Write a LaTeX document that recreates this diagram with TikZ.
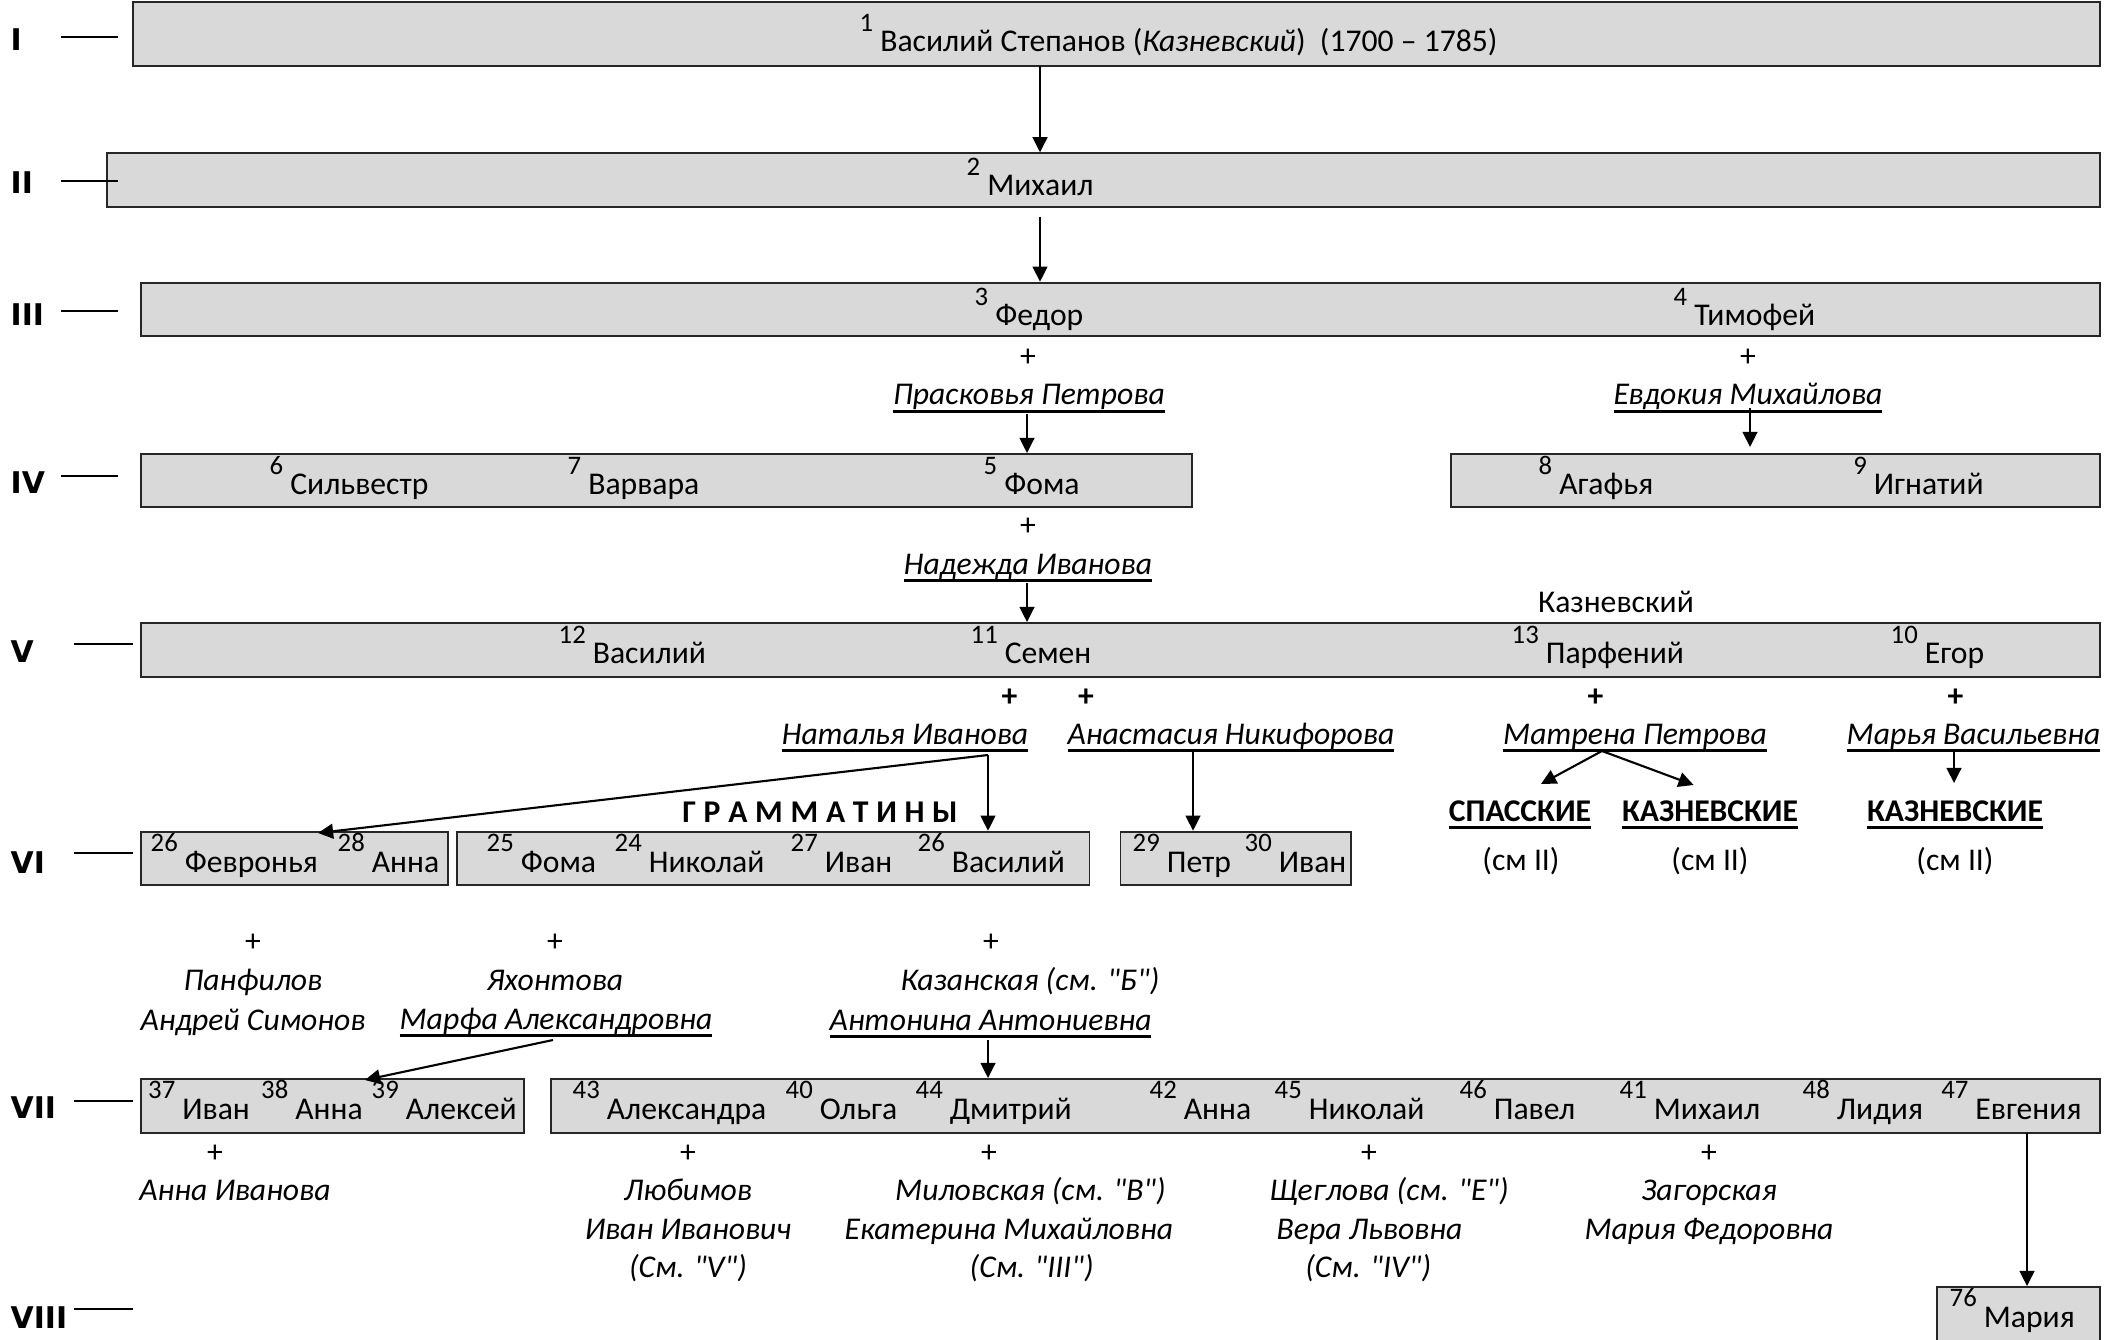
\documentclass[tikz,border=0pt]{standalone}
\usepackage{fontspec}
\setmainfont{Carlito}[Ligatures=TeXOff]
\newfontfamily\lvlfont{DejaVu Sans}
\usetikzlibrary{arrows.meta,fit}
\definecolor{boxfill}{HTML}{D9D9D9}
\newcommand\fs{\fontsize{9.0}{10.5}\selectfont}
\newcommand\pnum[2]{\raisebox{5.7pt}{\fontsize{7.6}{8}\selectfont #1}\hspace{2pt}#2}
\newcommand\myul[1]{\setbox0=\hbox{#1}\rlap{\rule[-2.3pt]{\wd0}{0.9pt}}\box0}
\newcommand\spc{\kern2.2pt}
\begin{document}
\begin{tikzpicture}[x=0.01cm,y=-0.01cm,font=\fs,
  famb/.style={draw=black!85,line width=0.55pt,fill=boxfill,inner sep=0pt,rectangle},
  pn/.style={anchor=base west,inner sep=0pt},
  sp/.style={anchor=base,inner sep=0pt,font=\fs\itshape},
  spl/.style={anchor=base west,inner sep=0pt,font=\fs\itshape},
  txt/.style={anchor=base,inner sep=0pt,font=\fs},
  btxt/.style={anchor=base,inner sep=0pt,font=\fs\bfseries},
  plus/.style={inner sep=0pt,font=\fs},
  bplus/.style={inner sep=0pt,font=\fs\bfseries},
  lvl/.style={anchor=west,inner sep=0pt,font=\lvlfont\bfseries\fontsize{8.5}{10}\selectfont},
  tick/.style={line width=0.55pt},
  arr/.style={-{Triangle[length=4.3pt,width=4.2pt]},line width=0.6pt},
  ln/.style={line width=0.6pt}]
\useasboundingbox (0,0) rectangle (2122,1340);
\clip (0,0) rectangle (2122,1340);

% ---------- boxes ----------
\node[famb,fit={(132.6,1.7)(2099.6,65.7)}] (bI) {};
\node[famb,fit={(107,153.3)(2099.6,206.7)}] (bII) {};
\node[famb,fit={(140.7,282.7)(2099.6,336)}] (bIII) {};
\node[famb,fit={(140.7,454)(1191.6,507)}] (bIVa) {};
\node[famb,fit={(1450.7,454)(2099.6,507)}] (bIVb) {};
\node[famb,fit={(140.7,623)(2099.6,677)}] (bV) {};
\node[famb,fit={(140.7,831.7)(448,885)}] (bVIa) {};
\node[famb,fit={(456.7,831.7)(1089.5,885)}] (bVIb) {};
\node[famb,fit={(1120.5,831.7)(1350.6,885)}] (bVIc) {};
\node[famb,fit={(140.7,1079)(524,1133)}] (bVIIa) {};
\node[famb,fit={(551.4,1079)(2099.6,1133)}] (bVIIb) {};
\node[famb,fit={(1937,1287)(2099.6,1370)}] (bVIII) {};

% ---------- generation labels ----------
\node[lvl] (lI) at (10,40) {I};
\node[lvl] (lII) at (10,183) {II};
\node[lvl] (lIII) at (10,315) {III};
\node[lvl] (lIV) at (10,483) {IV};
\node[lvl] (lV) at (10,652) {V};
\node[lvl] (lVI) at (10,863) {VI};
\node[lvl] (lVII) at (10,1108) {VII};
\node[lvl] (lVIII) at (10,1318) {VIII};
\draw[tick] (61,37) -- (118,37);
\draw[tick] (61,181) -- (118,181);
\draw[tick] (61,311) -- (118,311);
\draw[tick] (61,476) -- (118,476);
\draw[tick] (74,644) -- (133,644);
\draw[tick] (74,853) -- (133,853);
\draw[tick] (74,1101) -- (133,1101);
\draw[tick] (74,1309) -- (133,1309);

% ---------- persons ----------
\node[pn] (p1) at (859,51.7) {\pnum{1}{Василий Степанов (\textit{Казневский})\ \ (1700 – 1785)}};
\node[pn] (p2) at (966,195.5) {\pnum{2}{Михаил}};
\node[pn] (p3) at (974,325.5) {\pnum{3}{Федор}};
\node[pn] (p4) at (1673,325.5) {\pnum{4}{Тимофей}};
\node[pn] (p6) at (269,494.5) {\pnum{6}{Сильвестр}};
\node[pn] (p7) at (567,494.5) {\pnum{7}{Варвара}};
\node[pn] (p5) at (983,494.5) {\pnum{5}{Фома}};
\node[pn] (p8) at (1538,494.5) {\pnum{8}{Агафья}};
\node[pn] (p9) at (1852.6,494.5) {\pnum{9}{Игнатий}};
\node[pn] (p12) at (558,663.5) {\pnum{12}{Василий}};
\node[pn] (p11) at (970,663.5) {\pnum{11}{Семен}};
\node[pn] (p13) at (1511,663.5) {\pnum{13}{Парфений}};
\node[pn] (p10) at (1890,663.5) {\pnum{10}{Егор}};
\node[pn] (p26a) at (150,872) {\pnum{26}{Февронья}};
\node[pn] (p28) at (337,872) {\pnum{28}{Анна}};
\node[pn] (p25) at (486,872) {\pnum{25}{Фома}};
\node[pn] (p24) at (614,872) {\pnum{24}{Николай}};
\node[pn] (p27) at (790,872) {\pnum{27}{Иван}};
\node[pn] (p26b) at (917,872) {\pnum{26}{Василий}};
\node[pn] (p29) at (1132,872) {\pnum{29}{Петр}};
\node[pn] (p30) at (1244,872) {\pnum{30}{Иван}};
\node[pn] (p37) at (147.5,1119) {\pnum{37}{Иван}};
\node[pn] (p38) at (260.5,1119) {\pnum{38}{Анна}};
\node[pn] (p39) at (371,1119) {\pnum{39}{Алексей}};
\node[pn] (p43) at (572,1119) {\pnum{43}{Александра}};
\node[pn] (p40) at (785,1119) {\pnum{40}{Ольга}};
\node[pn] (p44) at (915,1119) {\pnum{44}{Дмитрий}};
\node[pn] (p42) at (1149,1119) {\pnum{42}{Анна}};
\node[pn] (p45) at (1274,1119) {\pnum{45}{Николай}};
\node[pn] (p46) at (1459,1119) {\pnum{46}{Павел}};
\node[pn] (p41) at (1619,1119) {\pnum{41}{Михаил}};
\node[pn] (p48) at (1802,1119) {\pnum{48}{Лидия}};
\node[pn] (p47) at (1940.6,1119) {\pnum{47}{Евгения}};
\node[pn] (p76) at (1949,1327) {\pnum{76}{Мария}};

% ---------- spouses and notes ----------
\node[plus] (pl3) at (1028,358) {+};
\node[plus] (pl4) at (1748,358) {+};
\node[sp] (sPr) at (1029,405) {\myul{Прасковья Петрова}};
\node[sp] (sEv) at (1748,405) {\myul{Евдокия Михайлова}};
\node[plus] (pl5) at (1028,527) {+};
\node[sp] (sNa) at (1028,574) {\myul{Надежда Иванова}};
\node[txt] (kaz) at (1616,613) {Казневский};

\node[bplus] (pl11a) at (1009.5,698) {+};
\node[bplus] (pl11b) at (1086,698) {+};
\node[bplus] (pl13) at (1595.5,698) {+};
\node[bplus] (pl10) at (1955.5,698) {+};
\node[sp] (sNat) at (905,744) {\myul{Наталья Иванова}};
\node[sp] (sAn) at (1231,744) {\myul{Анастасия Никифорова}};
\node[sp] (sMa) at (1635,744) {\myul{Матрена Петрова}};
\node[sp] (sMv) at (1973.5,744) {\myul{Марья Васильевна}};

\node[btxt] (gram) at (820,822) {Г\spc Р\spc А\spc М\spc М\spc А\spc Т\spc И\spc Н\spc Ы};
\node[btxt] (spas) at (1520,821) {\myul{СПАССКИЕ}};
\node[btxt] (kaz1) at (1710,821) {\myul{КАЗНЕВСКИЕ}};
\node[btxt] (kaz2) at (1955,821) {\myul{КАЗНЕВСКИЕ}};
\node[txt] (sm1) at (1521,870) {(см II)};
\node[txt] (sm2) at (1710,870) {(см II)};
\node[txt] (sm3) at (1955,870) {(см II)};

\node[plus] (pl26) at (253,943) {+};
\node[plus] (pl25) at (555,943) {+};
\node[plus] (pl26b) at (991,943) {+};
\node[sp] (sPa1) at (253,990) {Панфилов};
\node[sp] (sPa2) at (253,1030) {Андрей Симонов};
\node[sp] (sYa1) at (555,990) {Яхонтова};
\node[sp] (sYa2) at (556,1029) {\myul{Марфа Александровна}};
\node[spl] (sKa1) at (900,990) {Казанская (см. "Б")};
\node[sp] (sKa2) at (990.6,1030) {\myul{Антонина Антониевна}};

\node[plus] (pl37) at (215,1154) {+};
\node[plus] (pl43) at (688,1154) {+};
\node[plus] (pl44) at (989,1154) {+};
\node[plus] (pl45) at (1369,1154) {+};
\node[plus] (pl41) at (1709,1154) {+};
\node[sp] (sAI) at (235,1200) {Анна Иванова};
\node[sp] (sLu1) at (688,1200) {Любимов};
\node[sp] (sLu2) at (688,1239) {Иван Иванович};
\node[sp] (sLu3) at (688,1277) {(См. "V")};
\node[spl] (sMi1) at (894.5,1200) {Миловская (см. "В")};
\node[spl] (sMi2) at (844,1239) {Екатерина Михайловна};
\node[spl] (sMi3) at (969,1277) {(См. "III")};
\node[spl] (sSh1) at (1269,1200) {Щеглова (см. "Е")};
\node[spl] (sSh2) at (1276,1239) {Вера Львовна};
\node[spl] (sSh3) at (1304.6,1277) {(См. "IV")};
\node[sp] (sZa1) at (1709,1200) {Загорская};
\node[sp] (sZa2) at (1709,1239) {Мария Федоровна};

% ---------- connector anchors ----------
\coordinate (cI) at (1040,65.7);
\coordinate (cII) at (1040,216.7);
\coordinate (cPr) at (1027,414);
\coordinate (cEv) at (1750,408);
\coordinate (cEvE) at (1750,447);
\coordinate (cNa) at (1027,583);
\coordinate (cNat) at (988,755);
\coordinate (cFev) at (318,833);
\coordinate (cAn) at (1193,752);
\coordinate (cMa) at (1602,751);
\coordinate (cSpE) at (1541,784);
\coordinate (cKzE) at (1693.6,785);
\coordinate (cMv) at (1954,752);
\coordinate (cMvE) at (1954,783);
\coordinate (cMf) at (553,1040);
\coordinate (cMfE) at (365,1080);
\coordinate (cAt) at (988,1040);
\coordinate (cEg) at (2027,1133);

% ---------- connectors ----------
\draw[arr] (cI) -- (cI |- bII.north);
\draw[arr] (cII) -- (cII |- bIII.north);
\draw[arr] (cPr) -- (cPr |- bIVa.north);
\draw[arr] (cEv) -- (cEvE);
\draw[arr] (cNa) -- (cNa |- bV.north);
\draw[arr] (cNat) -- (cNat |- bVIb.north);
\draw[arr] (cNat) -- (cFev);
\draw[arr] (cAn) -- (cAn |- bVIc.north);
\draw[arr] (cMa) -- (cSpE);
\draw[arr] (cMa) -- (cKzE);
\draw[arr] (cMv) -- (cMvE);
\draw[arr] (cMf) -- (cMfE);
\draw[arr] (cAt) -- (cAt |- bVIIb.north);
\draw[arr] (cEg) -- (cEg |- bVIII.north);
\end{tikzpicture}
\end{document}
